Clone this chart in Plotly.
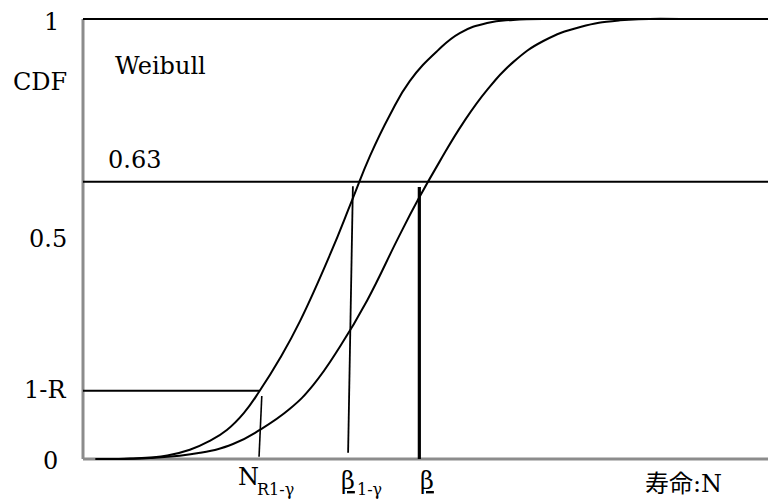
import plotly.graph_objects as go

# Life axis (arbitrary units, 0..10) and CDF
life_left = [0.18, 0.69, 1.23, 1.56, 1.85, 2.10, 2.35, 2.58, 2.88, 3.17, 3.61, 3.93,
             4.19, 4.48, 4.77, 5.17, 5.50, 5.90, 6.28, 6.75]
cdf_left = [0.0, 0.001, 0.008, 0.021, 0.041, 0.066, 0.105, 0.155, 0.230, 0.314, 0.466, 0.589,
            0.689, 0.782, 0.859, 0.927, 0.968, 0.991, 0.998, 1.0]

life_right = [0.25, 0.98, 1.71, 2.19, 2.58, 3.02, 3.36, 3.75, 4.15, 4.60, 4.89, 5.21,
              5.55, 5.90, 6.28, 6.72, 7.26, 7.84, 8.72]
cdf_right = [0.0, 0.002, 0.014, 0.034, 0.066, 0.114, 0.168, 0.255, 0.361, 0.502, 0.589, 0.677,
             0.764, 0.839, 0.902, 0.950, 0.982, 0.997, 1.0]

life_max = 10.0

# Reference levels on the CDF axis
level_names = ["0", "1-R", "0.5", "0.63", "1"]
level_values = [0.0, 0.155, 0.5, 0.63, 1.0]

# Marker lines on the life axis: (top, bottom) points
n_r_life = [2.61, 2.57]
n_r_cdf = [0.143, 0.005]
beta_lo_life = [3.94, 3.87]
beta_lo_cdf = [0.62, 0.014]
beta_life = [4.91, 4.91]
beta_cdf = [0.618, 0.0]
life_r_end = 2.58  # where the 1-R level meets the left curve

lv = dict(zip(level_names, level_values))

# ---- layout geometry (pixels) ----
W, H = 768, 504
X0_PX, Y0_PX, Y1_PX = 83, 459, 19
PAD = 7
px_per_x = (W - X0_PX) / life_max
px_per_y = (Y0_PX - Y1_PX) / 1.0
x_range = [-PAD / px_per_x, life_max]
y_range = [-PAD / px_per_y, 1 + PAD / px_per_y]

FONT = "DejaVu Serif, Noto Sans CJK JP"
FS = 24
SUB = 16
black = "#000000"
grey = "#8c8c8c"

fig = go.Figure()


def seg(x, y, width, color=black):
    fig.add_trace(go.Scatter(x=x, y=y, mode="lines", hoverinfo="skip",
                             line=dict(color=color, width=width), showlegend=False))


# axes drawn as grey lines
seg([0, 0], [0, 1], 3, grey)
seg([0, life_max], [0, 0], 3, grey)

# horizontal reference levels
seg([0, life_max], [lv["1"], lv["1"]], 2)
seg([0, life_max], [lv["0.63"], lv["0.63"]], 2)
seg([0, life_r_end], [lv["1-R"], lv["1-R"]], 2)

# the two CDF curves
for xs, ys in ((life_left, cdf_left), (life_right, cdf_right)):
    fig.add_trace(go.Scatter(x=xs, y=ys, mode="lines", showlegend=False, hoverinfo="skip",
                             line=dict(color=black, width=2, shape="spline", smoothing=1.3)))

# vertical markers
seg(n_r_life, n_r_cdf, 1.6)
seg(beta_lo_life, beta_lo_cdf, 1.8)
seg(beta_life, beta_cdf, 3.2)


def label(text, cx_px, cy_px, anchor="center", size=FS):
    fig.add_annotation(text=text, xref="x", yref="y", x=0, y=0,
                       xshift=cx_px - X0_PX, yshift=Y0_PX - cy_px,
                       xanchor=anchor, yanchor="middle", showarrow=False,
                       font=dict(family=FONT, size=size, color=black))


# CDF axis labels
label("1", 51, 22)
label("CDF", 40, 82)
label(level_names[2], 48, 239)
label(level_names[1], 45, 390)
label(level_names[0], 50, 461)
label(level_names[3], 106, Y0_PX - lv["0.63"] * px_per_y - 22, anchor="left")
label("Weibull", 113, 66, anchor="left")

# life axis labels (subscripts set as smaller text beside the symbol)
label("N", 236, 477, anchor="left")
label("R1-γ", 255, 489, anchor="left", size=SUB)
label("<u>β</u>", 339, 481, anchor="left")
label("1-γ", 355, 489, anchor="left", size=SUB)
label("<u>β</u>", 418, 481, anchor="left")
label("寿命:N", 643, 484, anchor="left")

fig.update_layout(
    width=W, height=H,
    margin=dict(l=X0_PX - PAD, r=0, t=Y1_PX - PAD, b=H - Y0_PX - PAD),
    plot_bgcolor="white", paper_bgcolor="white",
    xaxis=dict(range=x_range, visible=False, fixedrange=True),
    yaxis=dict(range=y_range, visible=False, fixedrange=True),
)

fig.write_html("out.html")
